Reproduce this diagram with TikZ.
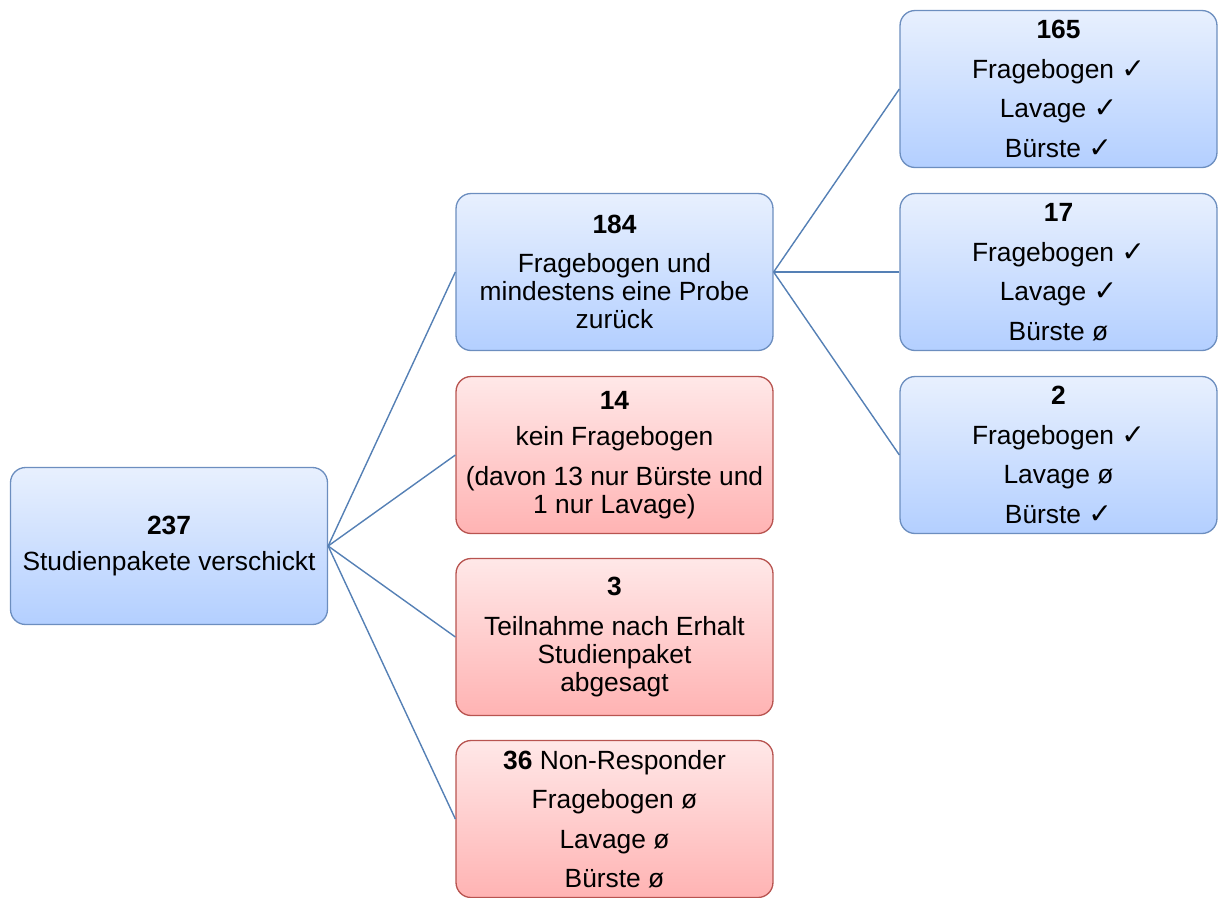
\documentclass[tikz,border=0pt]{standalone}
\usepackage{fontspec}
\setmainfont{Liberation Sans}
\newfontfamily\symfont{DejaVu Sans}
\newcommand{\ja}{{\symfont\fontsize{16}{16}\selectfont ✓}}
\definecolor{blueTop}{HTML}{E8F0FE}
\definecolor{blueBot}{HTML}{B3CFFF}
\definecolor{redTop}{HTML}{FFE8E8}
\definecolor{redBot}{HTML}{FFB3B3}
\definecolor{boxBlue}{HTML}{6C8EBF}
\definecolor{boxRed}{HTML}{B85450}
\definecolor{linkBlue}{HTML}{5580B5}

\begin{document}
\begin{tikzpicture}[x=0.02cm,y=-0.02cm,
  box/.style={draw,rounded corners=0.3cm,minimum width=6.34cm,minimum height=3.14cm,
    align=center,inner sep=2pt,line width=0.75pt,font=\fontsize{15}{16}\selectfont},
  bluebox/.style={box,draw=boxBlue,top color=blueTop,bottom color=blueBot},
  redbox/.style={box,draw=boxRed,top color=redTop,bottom color=redBot},
  link/.style={draw=linkBlue,line width=0.8pt}]
\useasboundingbox (0,0) rectangle (1218,897);
\node[bluebox] (pakete) at (169,546) {\textbf{237}\\[4.5pt]Studienpakete verschickt};
% zweite Spalte
\node[bluebox] (zurueck) at (614.5,272) {\textbf{184}\\[6.5pt]Fragebogen und\\mindestens eine Probe\\zurück};
\node[redbox] (keinFB) at (614.5,455) {\textbf{14}\\[5pt]kein Fragebogen\\[6.5pt](davon 13 nur Bürste und\\1 nur Lavage)};
\node[redbox] (abgesagt) at (614.5,637) {\textbf{3}\\[6.5pt]Teilnahme nach Erhalt\\Studienpaket\\abgesagt};
\node[redbox] (nonresp) at (614.5,819) {\textbf{36} Non-Responder\\[6.5pt]Fragebogen ø\\[6.5pt]Lavage ø\\[6.5pt]Bürste ø};
% dritte Spalte
\node[bluebox] (alle) at (1058.5,89) {\textbf{165}\\[6.5pt]Fragebogen \ja\\[6.5pt]Lavage \ja\\[6.5pt]Bürste \ja};
\node[bluebox] (ohneB) at (1058.5,272) {\textbf{17}\\[6.5pt]Fragebogen \ja\\[6.5pt]Lavage \ja\\[6.5pt]Bürste ø};
\node[bluebox] (ohneL) at (1058.5,455) {\textbf{2}\\[6.5pt]Fragebogen \ja\\[6.5pt]Lavage ø\\[6.5pt]Bürste \ja};
\foreach \n in {zurueck,keinFB,abgesagt,nonresp}
  \draw[link] (pakete.east) -- (\n.west);
\foreach \n in {alle,ohneB,ohneL}
  \draw[link] (zurueck.east) -- (\n.west);
\end{tikzpicture}
\end{document}
